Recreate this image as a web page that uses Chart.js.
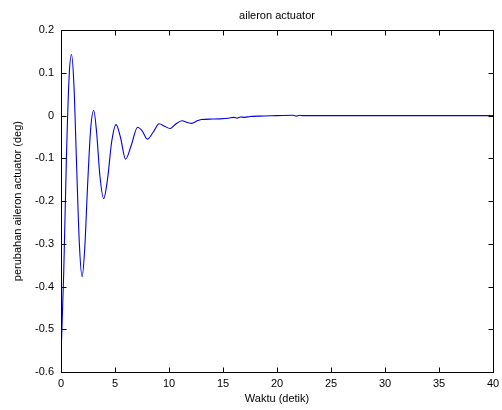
<!DOCTYPE html>
<html><head><meta charset="utf-8">
<script src="https://cdn.jsdelivr.net/npm/chart.js@4/dist/chart.umd.min.js"></script>
<style>html,body{margin:0;padding:0;background:#fff}</style>
</head><body>
<canvas id="c" width="502" height="410" style="width:502px;height:410px;display:block"></canvas>
<script>
// Time (s) and response values
const times = [0, 0.25, 0.5, 0.75, 0.97, 1.2, 1.45, 1.7, 1.95, 2.2, 2.45, 2.75, 3.03, 3.3, 3.6, 3.95, 4.3, 4.7, 5.1, 5.5, 5.98, 6.5, 7.09, 7.5, 8.0, 8.5, 9.1, 9.6, 10.1, 10.6, 11.2, 11.7, 12.1, 12.6, 13.0, 14.0, 14.7, 15.5, 16.0, 16.3, 16.6, 17.0, 17.5, 18.4, 20.0, 21.5, 21.8, 22.1, 22.4, 23.0, 30.0, 40.0];
const values = [-0.56, -0.37, -0.1, 0.09, 0.143, 0.07, -0.12, -0.30, -0.377, -0.31, -0.17, -0.03, 0.012, -0.04, -0.14, -0.194, -0.15, -0.06, -0.021, -0.05, -0.102, -0.07, -0.027, -0.035, -0.055, -0.04, -0.019, -0.025, -0.03, -0.02, -0.012, -0.016, -0.018, -0.012, -0.009, -0.008, -0.0075, -0.006, -0.004, -0.006, -0.003, -0.004, -0.002, -0.001, 0, 0.001, -0.001, 0.001, 0, 0, 0, 0];
const xTicks = [0, 5, 10, 15, 20, 25, 30, 35, 40];
const yTicks = [-0.6, -0.5, -0.4, -0.3, -0.2, -0.1, 0, 0.1, 0.2];
const yTickLabels = ['-0.6', '-0.5', '-0.4', '-0.3', '-0.2', '-0.1', '0', '0.1', '0.2'];
const titleText = 'aileron actuator';
const xTitle = 'Waktu (detik)';
const yTitle = 'perubahan aileron actuator (deg)';

const FONT = {family: '"Liberation Sans", Arial, sans-serif', size: 11, weight: 'normal'};

const frame = {
  id: 'frame',
  afterDraw(chart) {
    const {ctx, chartArea: {left, right, top, bottom}, scales: {x, y}} = chart;
    const l = Math.round(left) + 0.5, r = Math.round(right) + 0.5, t = Math.round(top) + 0.5, b = Math.round(bottom) + 0.5;
    ctx.save();
    ctx.strokeStyle = '#000';
    ctx.lineWidth = 1;
    ctx.strokeRect(l, t, r - l, b - t);
    const L = 5;
    ctx.beginPath();
    x.ticks.forEach(tk => {
      const p = Math.round(x.getPixelForValue(tk.value)) + 0.5;
      ctx.moveTo(p, b); ctx.lineTo(p, b - L);
      ctx.moveTo(p, t); ctx.lineTo(p, t + L);
    });
    y.ticks.forEach(tk => {
      const p = Math.round(y.getPixelForValue(tk.value)) + 0.5;
      ctx.moveTo(l, p); ctx.lineTo(l + L, p);
      ctx.moveTo(r, p); ctx.lineTo(r - L, p);
    });
    ctx.stroke();
    ctx.restore();
  }
};

new Chart(document.getElementById('c'), {
  type: 'line',
  data: {
    datasets: [{
      data: times.map((t, i) => ({x: t, y: values[i]})),
      borderColor: '#0000e0',
      borderWidth: 1.1,
      pointRadius: 0,
      fill: false,
      cubicInterpolationMode: 'monotone'
    }]
  },
  options: {
    responsive: false,
    animation: false,
    devicePixelRatio: 1,
    layout: {padding: {left: 0, right: 9, top: 0, bottom: 0}},
    plugins: {
      legend: {display: false},
      tooltip: {enabled: false},
      title: {
        display: true, text: titleText, color: '#000', font: FONT,
        fullSize: false, padding: {top: 9, bottom: 8}
      }
    },
    scales: {
      x: {
        type: 'linear', min: 0, max: 40,
        afterBuildTicks: s => { s.ticks = xTicks.map(v => ({value: v})); },
        afterFit: s => { s.height = 38; s.paddingLeft = 0; s.paddingRight = 0; },
        grid: {display: false, drawTicks: false},
        border: {display: false},
        ticks: {color: '#000', font: FONT, padding: 5, maxRotation: 0, autoSkip: false},
        title: {display: true, text: xTitle, color: '#000', font: FONT, padding: {top: 0, bottom: 4}}
      },
      y: {
        type: 'linear', min: -0.6, max: 0.2,
        afterBuildTicks: s => { s.ticks = yTicks.map(v => ({value: v})); },
        afterFit: s => { s.width = 61; s.paddingTop = 0; s.paddingBottom = 0; },
        grid: {display: false, drawTicks: false},
        border: {display: false},
        ticks: {color: '#000', font: FONT, padding: 7, autoSkip: false,
          callback: (v, i) => yTickLabels[i]},
        title: {display: true, text: yTitle, color: '#000', font: FONT, padding: {top: 11, bottom: 0}}
      }
    }
  },
  plugins: [frame]
});
</script>
</body></html>
